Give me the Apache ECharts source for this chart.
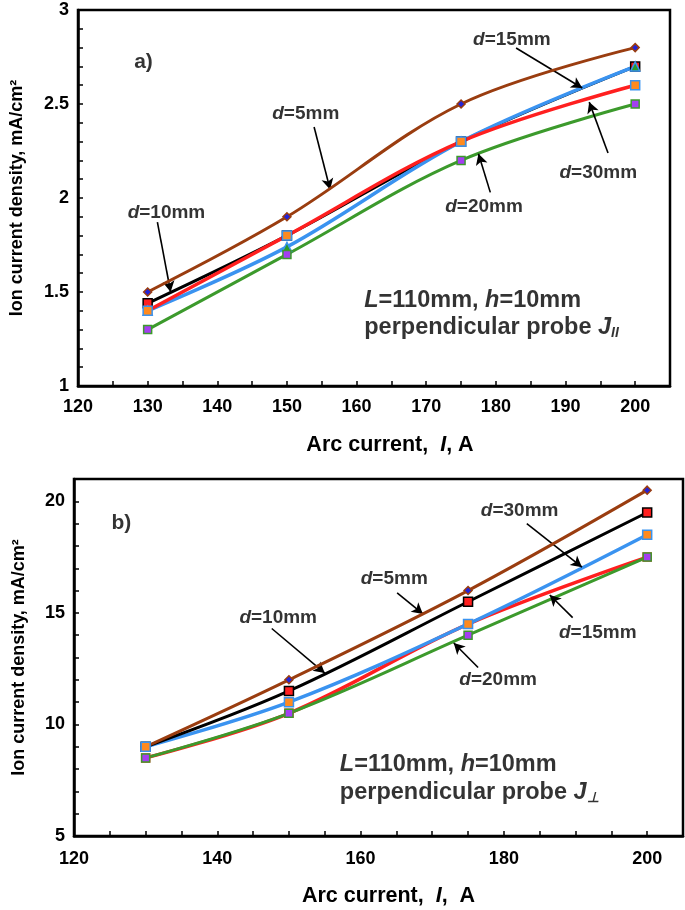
<!DOCTYPE html>
<html>
<head>
<meta charset="utf-8">
<script src="https://cdn.jsdelivr.net/npm/echarts@6/dist/echarts.min.js"></script>
<style>
html,body{margin:0;padding:0;background:#fff;}
#c{width:685px;height:910px;}
</style>
</head>
<body>
<div id="c"></div>
<script>
// ---- data ----
const arcCurrent = [130, 150, 175, 200];

// a) perpendicular probe J_II
const topD5  = [1.5, 1.9, 2.5, 2.8];
const topD10 = [1.44, 1.8, 2.3, 2.7];
const topD15 = [1.4, 1.74, 2.3, 2.7];
const topD30 = [1.4, 1.8, 2.3, 2.6];
const topD20 = [1.3, 1.7, 2.2, 2.5];

// b) perpendicular probe J_perp
const botD5  = [9, 12, 16, 20.5];
const botD10 = [9, 11.5, 15.5, 19.5];
const botD30 = [9, 11, 14.5, 18.5];
const botD15 = [8.5, 10.5, 14.5, 17.5];
const botD20 = [8.5, 10.5, 14, 17.5];

const topYTicks = [1, 1.5, 2, 2.5, 3];
const botYTicks = [5, 10, 15, 20];

// ---- annotation layout (data coordinates) ----
const topNotes = [
  {t:'{i|d}{b|=5mm}',  at:[152.7, 2.45], from:[153.9, 2.378], to:[156.2, 2.045]},
  {t:'{i|d}{b|=10mm}', at:[132.7, 1.92], from:[131.4, 1.872], to:[133.3, 1.50]},
  {t:'{i|d}{b|=15mm}', at:[182.3, 2.84], from:[182.9, 2.798], to:[192.4, 2.585]},
  {t:'{i|d}{b|=30mm}', at:[194.7, 2.133], from:[196.1, 2.239], to:[193.4, 2.51]},
  {t:'{i|d}{b|=20mm}', at:[178.3, 1.952], from:[179.2, 2.03], to:[177.5, 2.235]},
  {t:'{p|a)}', at:[129.4, 2.72]}
];
const topText = [
  {t:'{li|L}{lb|=110mm, }{li|h}{lb|=10mm}', at:[161.1, 1.457]},
  {t:'{lb|perpendicular probe }{li|J}{sub|II}', at:[161.1, 1.309]}
];
const botNotes = [
  {t:'{i|d}{b|=10mm}', at:[148.5, 14.8], from:[147.6, 14.3], to:[155.0, 12.3]},
  {t:'{i|d}{b|=5mm}',  at:[164.7, 16.55], from:[165.1, 15.9], to:[168.7, 14.95]},
  {t:'{i|d}{b|=30mm}', at:[182.2, 19.56], from:[183.2, 19.0], to:[190.9, 17.05]},
  {t:'{i|d}{b|=15mm}', at:[193.1, 14.12], from:[189.6, 14.79], to:[186.4, 15.8]},
  {t:'{i|d}{b|=20mm}', at:[179.2, 12.0], from:[176.4, 12.55], to:[173.0, 13.65]},
  {t:'{p|b)}', at:[126.6, 19.0]}
];
const botText = [
  {t:'{li|L}{lb|=110mm, }{li|h}{lb|=10mm}', at:[157.1, 8.19]},
  {t:'{lb|perpendicular probe }{li|J}{sub|⊥}', at:[157.1, 6.93]}
];

const FF = 'Liberation Sans, Arial, sans-serif';
const C = {brown:'#9a3d10', black:'#000000', red:'#ff1f1f', blue:'#3a93f0', green:'#3c9a2c',
           navy:'#2323d8', orange:'#ff8a1f', purple:'#a43ef0', tri:'#2a9a2a'};

const rich = {
  i:{fontFamily:FF, fontSize:19, fontWeight:'bold', fontStyle:'italic', color:'#000'},
  b:{fontFamily:FF, fontSize:19, fontWeight:'bold', color:'#000'},
  p:{fontFamily:FF, fontSize:21, fontWeight:'bold', color:'#000'},
  li:{fontFamily:FF, fontSize:23.5, fontWeight:'bold', fontStyle:'italic', color:'#000'},
  lb:{fontFamily:FF, fontSize:23.5, fontWeight:'bold', color:'#000'},
  sub:{fontFamily:FF, fontSize:14, fontWeight:'bold', fontStyle:'italic', color:'#000', padding:[10,0,0,0]}
};

function pts(vals){ return arcCurrent.map((x,i)=>[x, vals[i]]); }

function line(vals, g, color, width, z){
  return {type:'line', xAxisIndex:g, yAxisIndex:g, data:pts(vals), smooth:0.35,
    symbol:'none', lineStyle:{color:color, width:width}, z:z, silent:true};
}
function marks(vals, g, symbol, size, fill, border, z){
  return {type:'scatter', xAxisIndex:g, yAxisIndex:g, data:pts(vals), symbol:symbol,
    symbolSize:size, itemStyle:{color:fill, borderColor:border, borderWidth:1.5, opacity:1}, z:z, silent:true};
}
function notes(list, g, align){
  const s = {type:'scatter', xAxisIndex:g, yAxisIndex:g, symbolSize:0, silent:true, z:30,
    data:list.map(n=>({value:n.at, label:{formatter:n.t}})),
    label:{show:true, position:'inside', align:align, verticalAlign:'middle', rich:rich}};
  const arrows = list.filter(n=>n.from);
  if(arrows.length){
    s.markLine = {silent:true, symbol:['none','arrow'], symbolSize:[9,11], animation:false,
      lineStyle:{color:'#000', width:1.6, type:'solid'}, label:{show:false},
      data:arrows.map(n=>[{coord:n.from},{coord:n.to}])};
  }
  return s;
}

const axisLabel = {color:'#000', fontFamily:FF, fontSize:18, fontWeight:'bold', showMaxLabel:false};
function nameStyle(size, padLeft){
  return {color:'#000', fontFamily:FF, fontSize:size, fontWeight:'bold', padding:[0,0,0,padLeft],
    rich:{n:{fontFamily:FF, fontSize:size, fontWeight:'bold', color:'#000'},
          it:{fontFamily:FF, fontSize:size, fontWeight:'bold', fontStyle:'italic', color:'#000'}}};
}
const axLine = {show:true, lineStyle:{color:'#000', width:2.5}};
const tick = {show:true, inside:true, length:5, lineStyle:{color:'#000', width:1.5}};
const mtick = (n)=>({show:true, splitNumber:n, length:5, lineStyle:{color:'#000', width:1.5}});

const option = {
  animation:false,
  backgroundColor:'#fff',
  grid:[
    {left:74, top:10, width:596, height:376, show:true, borderColor:'#000', borderWidth:2.5, backgroundColor:'transparent'},
    {left:74, top:479, width:609, height:357, show:true, borderColor:'#000', borderWidth:2.5, backgroundColor:'transparent'}
  ],
  xAxis:[
    {type:'value', gridIndex:0, min:120, max:205, interval:10,
     name:'{n|Arc current,  }{it|I}{n|, A}', nameLocation:'middle', nameGap:48, nameTextStyle:nameStyle(21.5, 32),
     axisLine:axLine, axisTick:tick, minorTick:mtick(2), splitLine:{show:false},
     axisLabel:Object.assign({margin:12}, axisLabel)},
    {type:'value', gridIndex:1, min:120, max:205, interval:20,
     name:'{n|Arc current,  }{it|I}{n|,  A}', nameLocation:'middle', nameGap:49, nameTextStyle:nameStyle(21.5, 20),
     axisLine:axLine, axisTick:tick, minorTick:mtick(4), splitLine:{show:false},
     axisLabel:Object.assign({margin:14}, axisLabel)}
  ],
  yAxis:[
    {type:'value', gridIndex:0, min:topYTicks[0], max:topYTicks[topYTicks.length-1], interval:0.5,
     name:'Ion current density, mA/cm²', nameLocation:'middle', nameGap:52, nameTextStyle:nameStyle(18, 0),
     axisLine:axLine, axisTick:tick, minorTick:mtick(5), splitLine:{show:false},
     axisLabel:Object.assign({}, axisLabel, {margin:9, showMaxLabel:true})},
    {type:'value', gridIndex:1, min:botYTicks[0], max:21, interval:5,
     name:'Ion current density, mA/cm²', nameLocation:'middle', nameGap:46, nameTextStyle:nameStyle(18, 0),
     axisLine:axLine, axisTick:tick, minorTick:mtick(5), splitLine:{show:false},
     axisLabel:Object.assign({margin:9}, axisLabel)}
  ],
  series:[
    // top lines
    line(topD10, 0, C.black, 3, 2),
    line(topD20, 0, C.green, 3, 3),
    line(topD15, 0, C.blue, 3.5, 4),
    line(topD30, 0, C.red, 3.5, 5),
    line(topD5, 0, C.brown, 3, 6),
    // top markers
    marks(topD10, 0, 'rect', 9, C.red, '#000', 10),
    marks(topD15, 0, 'triangle', 9, C.tri, C.blue, 11),
    marks(topD30, 0, 'rect', 9, C.orange, C.blue, 12),
    marks(topD20, 0, 'rect', 8, C.purple, C.green, 13),
    marks(topD5, 0, 'diamond', 8, C.navy, C.brown, 14),
    notes(topNotes, 0, 'center'),
    notes(topText, 0, 'left'),
    // bottom lines
    line(botD15, 1, C.red, 3.5, 2),
    line(botD20, 1, C.green, 3, 3),
    line(botD30, 1, C.blue, 3.5, 4),
    line(botD10, 1, C.black, 3, 5),
    line(botD5, 1, C.brown, 3, 6),
    // bottom markers
    marks(botD15, 1, 'rect', 8, C.purple, C.red, 10),
    marks(botD20, 1, 'rect', 8, C.purple, C.green, 11),
    marks(botD5, 1, 'diamond', 8, C.navy, C.brown, 12),
    marks(botD10, 1, 'rect', 9, C.red, '#000', 13),
    marks(botD30, 1, 'rect', 9, C.orange, C.blue, 14),
    notes(botNotes, 1, 'center'),
    notes(botText, 1, 'left')
  ]
};

const chart = echarts.init(document.getElementById('c'), null, {renderer:'canvas'});
chart.setOption(option);
</script>
</body>
</html>
